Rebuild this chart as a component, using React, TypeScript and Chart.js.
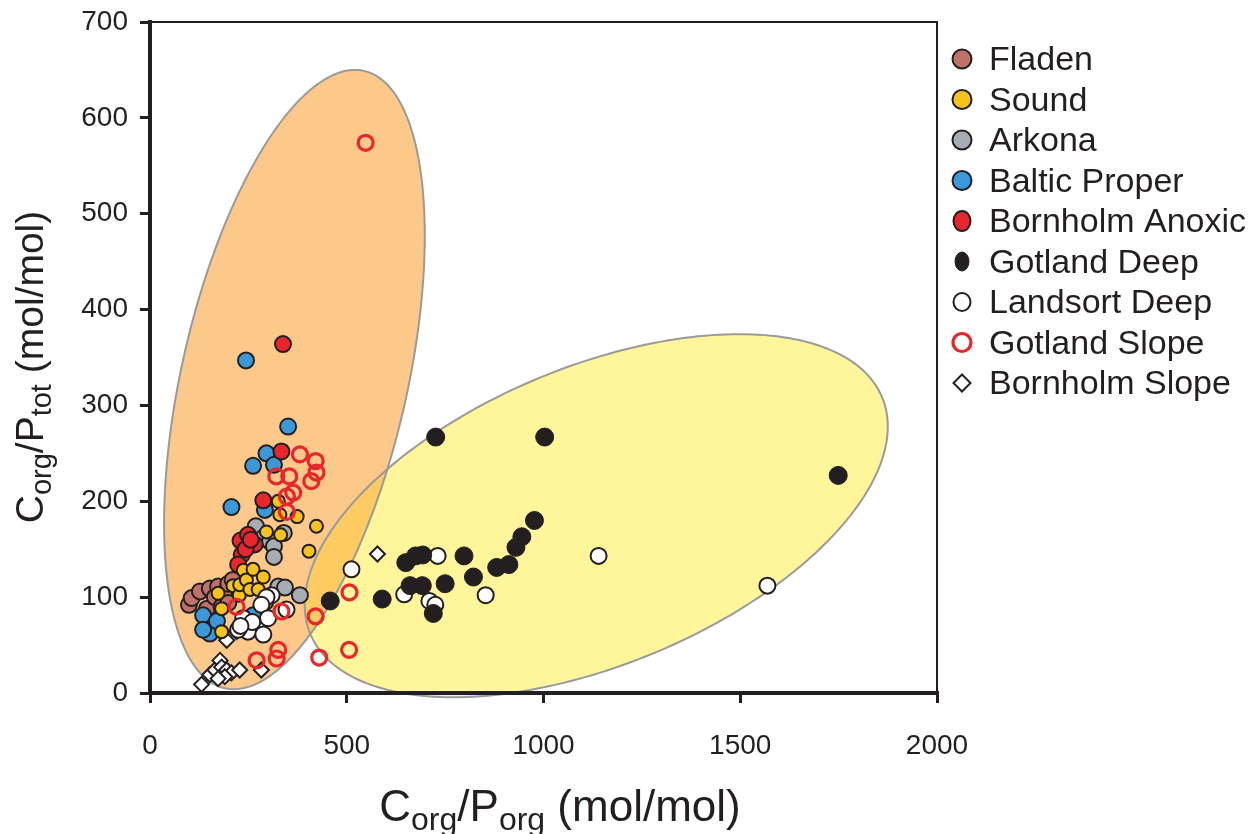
import React, { useEffect, useRef } from "react";
import { Chart, registerables } from "chart.js";

Chart.register(...registerables);

// ---------- data (C_org/P_org , C_org/P_tot) ----------
const seriesNames = [
  "Fladen",
  "Sound",
  "Arkona",
  "Baltic Proper",
  "Bornholm Anoxic",
  "Gotland Deep",
  "Landsort Deep",
  "Gotland Slope",
  "Bornholm Slope",
];

const fladen: number[][] = [
  [99, 92], [106, 99], [127, 106], [145, 88], [152, 109], [165, 100],
  [173, 111], [182, 90], [188, 104], [199, 114], [199, 94], [210, 118],
];
const sound: number[][] = [
  [173, 104], [182, 88], [182, 64], [211, 112], [227, 102], [228, 113],
  [237, 128], [245, 118], [254, 108], [262, 129], [275, 108], [288, 121],
  [296, 94], [296, 168], [326, 200], [330, 186], [332, 165], [374, 184],
  [404, 148], [423, 174],
];
const arkona: number[][] = [
  [269, 174], [288, 162], [305, 158], [315, 153], [315, 142], [340, 167],
  [326, 111], [343, 110], [381, 102],
];
const balticProper: number[][] = [
  [244, 347], [351, 278], [296, 250], [315, 238], [262, 237], [207, 194],
  [292, 191], [148, 74], [135, 81], [161, 69], [152, 62], [262, 81],
  [135, 66], [170, 75],
];
const bornholmAnoxic: number[][] = [
  [338, 364], [334, 252], [288, 201], [230, 159], [249, 165], [266, 155],
  [233, 144], [224, 134], [243, 150], [256, 160],
];
const gotlandDeep: number[][] = [
  [458, 96], [590, 98], [650, 136], [661, 112], [675, 143], [692, 112],
  [693, 144], [720, 83], [726, 267], [750, 114], [798, 143], [822, 121],
  [881, 131], [912, 134], [930, 152], [945, 163], [977, 180], [1003, 267],
  [1749, 227],
];
const landsortDeep: number[][] = [
  [512, 129], [731, 143], [646, 103], [710, 96], [725, 92], [853, 102],
  [1140, 143], [1569, 112], [309, 102], [296, 100], [283, 92], [347, 87],
  [237, 78], [271, 69], [249, 64], [288, 61], [224, 66], [260, 74],
  [300, 78], [230, 70],
];
const gotlandSlope: number[][] = [
  [548, 574], [381, 249], [421, 242], [423, 230], [410, 221], [321, 226],
  [354, 226], [364, 209], [348, 205], [348, 189], [220, 90], [334, 85],
  [421, 80], [507, 105], [506, 45], [430, 37], [271, 34], [326, 45],
  [322, 36],
];
const bornholmSlope: number[][] = [
  [578, 145], [131, 9], [152, 19], [165, 24], [178, 34], [182, 27],
  [195, 24], [207, 21], [228, 24], [190, 17], [173, 15], [283, 24],
  [195, 55], [220, 64],
];

const xTicks = [0, 500, 1000, 1500, 2000];
const yTicks = [0, 100, 200, 300, 400, 500, 600, 700];

// ellipses in data units: centre + two conjugate half-axis vectors
const leftEllipse = { cx: 367, cy: 327, ux: 177, uy: 322, vx: 280, vy: -26 };
const rightEllipse = { cx: 1134, cy: 185, ux: 727, uy: 123, vx: 143, vy: -144 };

// ---------- styling ----------
const FONT = "'Liberation Sans', Arial, Helvetica, sans-serif";
const INK = "#231F20";

const toPts = (a: number[][]) => a.map(([x, y]) => ({ x, y }));

function tracePath(ctx: CanvasRenderingContext2D, chart: any, e: any) {
  const xs = chart.scales.x;
  const ys = chart.scales.y;
  ctx.beginPath();
  const n = 240;
  for (let i = 0; i <= n; i++) {
    const t = (i / n) * Math.PI * 2;
    const dx = e.cx + e.ux * Math.cos(t) + e.vx * Math.sin(t);
    const dy = e.cy + e.uy * Math.cos(t) + e.vy * Math.sin(t);
    const px = xs.getPixelForValue(dx);
    const py = ys.getPixelForValue(dy);
    if (i === 0) ctx.moveTo(px, py);
    else ctx.lineTo(px, py);
  }
  ctx.closePath();
}

function drawRich(
  ctx: CanvasRenderingContext2D,
  parts: [string, boolean][],
  size: number,
  subSize: number,
  subDrop: number
) {
  let total = 0;
  const widths: number[] = [];
  for (const [t, sub] of parts) {
    ctx.font = `${sub ? subSize : size}px ${FONT}`;
    const w = ctx.measureText(t).width;
    widths.push(w);
    total += w;
  }
  let x = -total / 2;
  ctx.textAlign = "left";
  ctx.textBaseline = "alphabetic";
  parts.forEach(([t, sub], i) => {
    ctx.font = `${sub ? subSize : size}px ${FONT}`;
    ctx.fillText(t, x, sub ? subDrop : 0);
    x += widths[i];
  });
}

const legendMarker = [
  { rx: 9.5, ry: 9.5 },
  { rx: 9.5, ry: 9.5 },
  { rx: 9.5, ry: 9.5 },
  { rx: 9.5, ry: 9.5 },
  { rx: 8.5, ry: 10 },
  { rx: 7, ry: 9.5 },
  { rx: 8.5, ry: 9 },
  { rx: 9, ry: 9 },
  { rx: 8.5, ry: 8.5 },
];

const decorPlugin = {
  id: "decor",
  beforeDraw(chart: any) {
    const ctx: CanvasRenderingContext2D = chart.ctx;
    ctx.save();
    tracePath(ctx, chart, leftEllipse);
    ctx.fillStyle = "#FCC98B";
    ctx.fill();
    tracePath(ctx, chart, rightEllipse);
    ctx.fillStyle = "#FFF59B";
    ctx.fill();
    ctx.save();
    tracePath(ctx, chart, leftEllipse);
    ctx.clip();
    tracePath(ctx, chart, rightEllipse);
    ctx.fillStyle = "#FDCB62";
    ctx.fill();
    ctx.restore();
    ctx.lineWidth = 2;
    ctx.strokeStyle = "#9A9A9A";
    tracePath(ctx, chart, leftEllipse);
    ctx.stroke();
    tracePath(ctx, chart, rightEllipse);
    ctx.stroke();
    ctx.restore();
  },
  afterDraw(chart: any) {
    const ctx: CanvasRenderingContext2D = chart.ctx;
    const { left, right, top, bottom } = chart.chartArea;
    ctx.save();
    // frame top/right
    ctx.strokeStyle = INK;
    ctx.lineWidth = 2;
    ctx.beginPath();
    ctx.moveTo(left, top);
    ctx.lineTo(right, top);
    ctx.lineTo(right, bottom);
    ctx.stroke();

    // axis titles
    ctx.fillStyle = INK;
    ctx.save();
    ctx.translate(560, 821);
    drawRich(
      ctx,
      [["C", false], ["org", true], ["/P", false], ["org", true], [" (mol/mol)", false]],
      44, 32, 9
    );
    ctx.restore();
    ctx.save();
    ctx.translate(43, 367);
    ctx.rotate(-Math.PI / 2);
    drawRich(
      ctx,
      [["C", false], ["org", true], ["/P", false], ["tot", true], [" (mol/mol)", false]],
      39, 29, 8
    );
    ctx.restore();

    // legend
    const lx = 962;
    const tx = 989;
    const y0 = 59;
    const step = 40.5;
    chart.data.datasets.forEach((ds: any, i: number) => {
      const y = y0 + i * step;
      const m = legendMarker[i];
      ctx.save();
      ctx.lineWidth = ds.pointBorderWidth;
      ctx.strokeStyle = ds.pointBorderColor;
      ctx.fillStyle = ds.pointBackgroundColor;
      ctx.beginPath();
      if (ds.pointStyle === "rectRot") {
        ctx.moveTo(lx, y - m.ry);
        ctx.lineTo(lx + m.rx, y);
        ctx.lineTo(lx, y + m.ry);
        ctx.lineTo(lx - m.rx, y);
        ctx.closePath();
      } else {
        ctx.ellipse(lx, y, m.rx, m.ry, 0, 0, Math.PI * 2);
      }
      ctx.fill();
      ctx.stroke();
      ctx.restore();
      ctx.fillStyle = INK;
      ctx.font = `34px ${FONT}`;
      ctx.textAlign = "left";
      ctx.textBaseline = "middle";
      ctx.fillText(ds.label, tx, y + 2);
    });
    ctx.restore();
  },
};

function ds(
  label: string,
  data: number[][],
  fill: string,
  border: string,
  bw: number,
  r: number,
  order: number,
  style: string = "circle"
) {
  return {
    label,
    data: toPts(data),
    pointStyle: style,
    pointBackgroundColor: fill,
    pointBorderColor: border,
    pointBorderWidth: bw,
    pointRadius: r,
    pointHoverRadius: r,
    showLine: false,
    order,
    clip: false as any,
  };
}

export default function App() {
  const ref = useRef<HTMLCanvasElement | null>(null);

  useEffect(() => {
    document.body.style.margin = "0";
    const canvas = ref.current;
    if (!canvas) return;
    const chart = new Chart(canvas, {
      type: "scatter",
      data: {
        datasets: [
          ds(seriesNames[0], fladen, "#C0716A", INK, 2, 8, 7),
          ds(seriesNames[1], sound, "#F6C21E", INK, 2, 6.5, 3),
          ds(seriesNames[2], arkona, "#A8ACB3", INK, 2, 8, 5),
          ds(seriesNames[3], balticProper, "#3A9AD9", INK, 2, 8, 6),
          ds(seriesNames[4], bornholmAnoxic, "#E8262B", INK, 2, 8, 4),
          ds(seriesNames[5], gotlandDeep, INK, INK, 1, 9, 1),
          ds(seriesNames[6], landsortDeep, "#FFFFFF", INK, 2, 8, 2),
          ds(seriesNames[7], gotlandSlope, "rgba(0,0,0,0)", "#E8262B", 3.2, 7.5, 0),
          ds(seriesNames[8], bornholmSlope, "#FFFFFF", INK, 2, 7.5, 8, "rectRot"),
        ] as any,
      },
      options: {
        animation: false,
        responsive: false,
        maintainAspectRatio: false,
        layout: { padding: { left: 0, top: 22, right: 319, bottom: 0 } },
        plugins: {
          legend: { display: false },
          tooltip: { enabled: false },
        },
        scales: {
          x: {
            type: "linear",
            min: 0,
            max: 2000,
            afterBuildTicks: (s: any) => {
              s.ticks = xTicks.map((v) => ({ value: v }));
            },
            afterFit: (s: any) => {
              s.height = 141;
              s.paddingLeft = 0;
              s.paddingRight = 0;
            },
            ticks: {
              color: INK,
              font: { family: FONT, size: 28 },
              padding: 26,
              maxRotation: 0,
              callback: (v: any) => String(v),
            },
            grid: {
              drawOnChartArea: false,
              drawTicks: true,
              tickLength: 10,
              color: INK,
              lineWidth: 3,
            },
            border: { display: true, color: INK, width: 4 },
          },
          y: {
            type: "linear",
            min: 0,
            max: 700,
            afterBuildTicks: (s: any) => {
              s.ticks = yTicks.map((v) => ({ value: v }));
            },
            afterFit: (s: any) => {
              s.width = 150;
              s.paddingTop = 0;
              s.paddingBottom = 0;
            },
            ticks: {
              color: INK,
              font: { family: FONT, size: 28 },
              padding: 12,
              callback: (v: any) => String(v),
            },
            grid: {
              drawOnChartArea: false,
              drawTicks: true,
              tickLength: 10,
              color: INK,
              lineWidth: 3,
            },
            border: { display: true, color: INK, width: 4 },
          },
        },
      },
      plugins: [decorPlugin],
    });
    return () => chart.destroy();
  }, []);

  return (
    <canvas
      ref={ref}
      width={1256}
      height={834}
      style={{ display: "block", width: 1256, height: 834 }}
    />
  );
}
